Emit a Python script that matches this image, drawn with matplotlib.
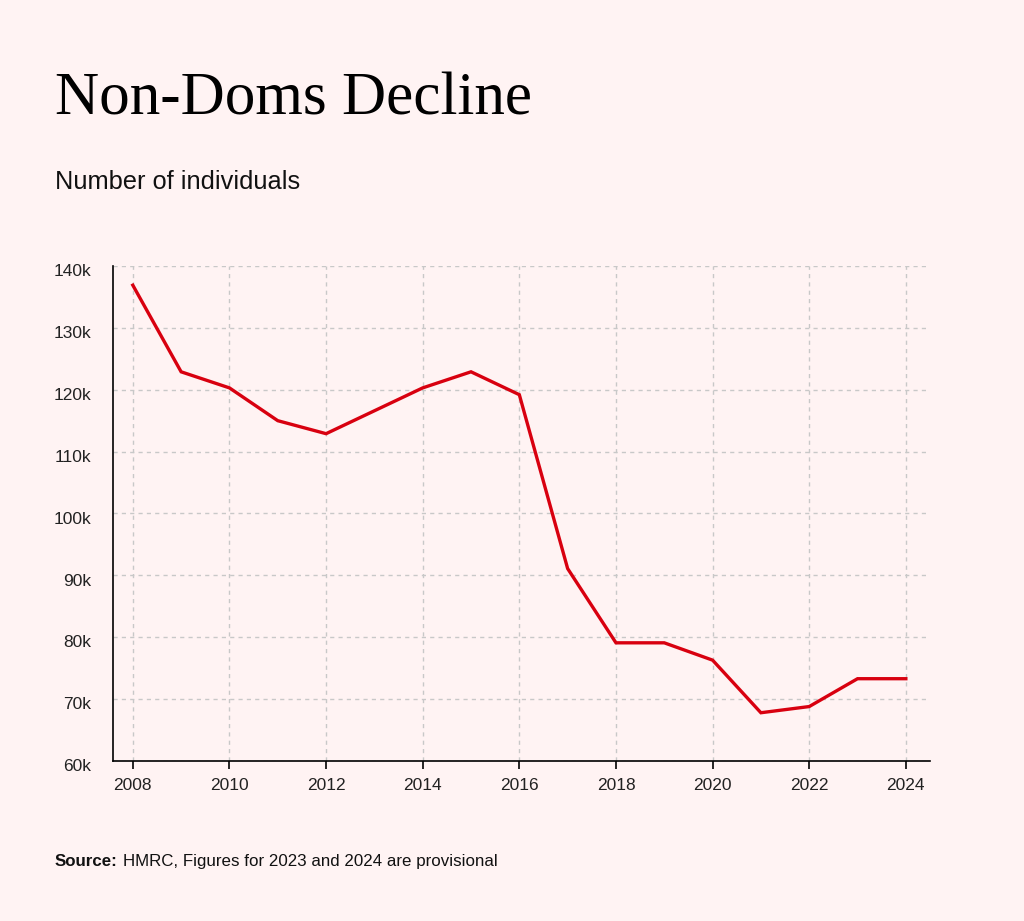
import matplotlib
matplotlib.use("Agg")
import matplotlib.pyplot as plt
import matplotlib.transforms as mtransforms
from matplotlib.ticker import FuncFormatter

years = list(range(2008, 2025))
individuals = [136.9, 122.9, 120.3, 115.0, 112.9, 116.6, 120.3, 122.9, 119.2,
               91.1, 79.1, 79.1, 76.3, 67.8, 68.8, 73.3, 73.3]
x_ticks = list(range(2008, 2025, 2))
y_ticks = list(range(60, 141, 10))

bg = "#FFF3F3"
fig = plt.figure(figsize=(10.24, 9.21), dpi=100, facecolor=bg)
ax = fig.add_axes([113/1024, 1-761/921, (930-113)/1024, (761-266)/921])
ax.set_facecolor(bg)

ax.plot(years, individuals, color="#D8000F", linewidth=2.4, solid_joinstyle="miter", zorder=3)

ax.set_xlim(2007.59, 2024.5)
ax.set_ylim(60, 140)
ax.set_xticks(x_ticks)
ax.set_yticks(y_ticks)
ax.yaxis.set_major_formatter(FuncFormatter(lambda v, p: f"{int(v)}k"))
ax.grid(True, color="#C8C8C8", linestyle=(0, (3, 3)), linewidth=1.0)
for s in ["top", "right"]:
    ax.spines[s].set_visible(False)
for s in ["left", "bottom"]:
    ax.spines[s].set_linewidth(1.2)
    ax.spines[s].set_color("black")
ax.tick_params(axis="x", length=6, width=1.2, pad=6, labelsize=12.5)
ax.tick_params(axis="y", length=0, pad=15.5, labelsize=12.5)
offset = mtransforms.ScaledTranslation(0, -3/72, fig.dpi_scale_trans)
for lab in ax.get_yticklabels():
    lab.set_transform(lab.get_transform() + offset)
for lab in ax.get_xticklabels() + ax.get_yticklabels():
    lab.set_fontfamily("Liberation Sans")
    lab.set_color("#222222")

fig.text(55/1024, 1-114/921, "Non-Doms Decline", fontfamily="Liberation Serif",
         fontsize=44, color="black", va="baseline", ha="left")
fig.text(55/1024, 1-189/921, "Number of individuals", fontfamily="Liberation Sans",
         fontsize=18.3, color="#111111", va="baseline", ha="left")
t = fig.text(55/1024, 1-866/921, "Source:", fontfamily="Liberation Sans",
             fontsize=12.2, fontweight="bold", color="#111111", va="baseline", ha="left")
fig.canvas.draw()
bb = t.get_window_extent()
fig.text((bb.x1 + 5)/1024, 1-866/921, "HMRC, Figures for 2023 and 2024 are provisional",
         fontfamily="Liberation Sans", fontsize=12.2, color="#111111", va="baseline", ha="left")

fig.savefig("out.png", dpi=100, facecolor=bg)
